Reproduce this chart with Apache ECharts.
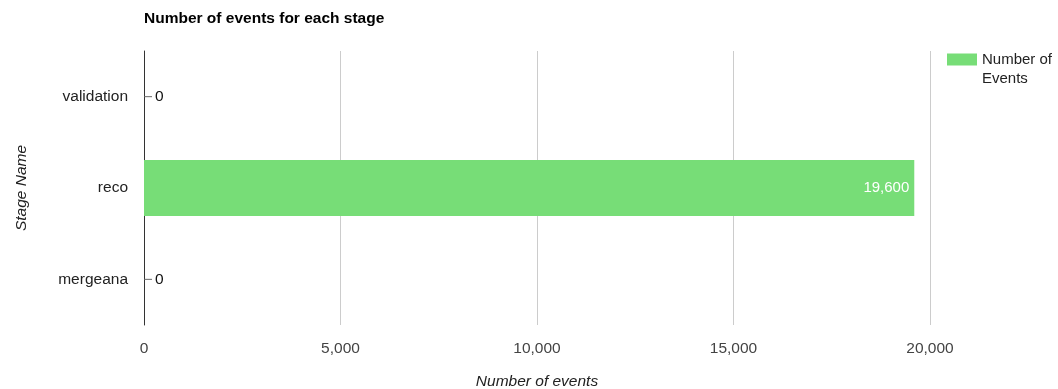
<!DOCTYPE html>
<html><head><meta charset="utf-8">
<script src="https://cdn.jsdelivr.net/npm/echarts@6/dist/echarts.min.js"></script>
<style>html,body{margin:0;padding:0;background:#fff}#c{width:1058px;height:389px}</style>
</head><body><div id="c"></div>
<script>
const categories = ['mergeana', 'reco', 'validation'];
const eventCounts = [0, 19600, 0];
const xTicks = [0, 5000, 10000, 15000, 20000];
const seriesName = 'Number of Events';

const FONT = '"Liberation Sans", Arial, sans-serif';
const FS = 15.5;
const chart = echarts.init(document.getElementById('c'));
const fmt = v => v.toLocaleString('en-US');
const data = eventCounts.map(v => v === 0 ? v : {
  value: v,
  label: { position: 'insideRight', color: '#fff', distance: 5 }
});
chart.setOption({
  animation: false,
  textStyle: { fontFamily: FONT },
  title: {
    text: 'Number of events for each stage', left: 139, top: 6,
    textStyle: { fontSize: FS, fontWeight: 'bold', color: '#000', fontFamily: FONT }
  },
  legend: {
    data: [seriesName], left: 947, top: 31, orient: 'vertical', padding: 0,
    icon: 'rect', itemWidth: 30, itemHeight: 12, itemGap: 8,
    formatter: () => '\nNumber of\nEvents',
    textStyle: { fontSize: 15, color: '#222', lineHeight: 19, fontFamily: FONT }
  },
  grid: { left: 144, right: 128, top: 51, bottom: 64, containLabel: false, outerBoundsMode: 'none' },
  xAxis: {
    type: 'value', min: xTicks[0], max: xTicks[xTicks.length - 1], interval: 5000,
    name: 'Number of events', nameLocation: 'middle', nameGap: 49,
    nameTextStyle: { fontStyle: 'italic', fontSize: FS, color: '#222', fontFamily: FONT },
    axisLine: { show: false }, axisTick: { show: false },
    axisLabel: { fontSize: FS, color: '#444', margin: 16, formatter: fmt, fontFamily: FONT },
    splitLine: { lineStyle: { color: '#ccc', width: 1 } }
  },
  yAxis: {
    type: 'category', data: categories,
    name: 'Stage Name', nameLocation: 'middle', nameGap: 114, nameRotate: 90,
    nameTextStyle: { fontStyle: 'italic', fontSize: FS, color: '#222', fontFamily: FONT },
    axisLine: { show: true, lineStyle: { color: '#333', width: 1 } },
    axisTick: { show: false },
    axisLabel: { fontSize: FS, color: '#222', margin: 16, fontFamily: FONT }
  },
  series: [{
    name: seriesName, type: 'bar', data: data,
    barCategoryGap: '38.5%',
    itemStyle: { color: '#77dd77' },
    label: {
      show: true, fontFamily: FONT, fontSize: 15,
      position: 'right', distance: 0,
      formatter: p => p.value === 0 ? '{stem|}{z|0}' : fmt(p.value),
      rich: {
        stem: { width: 8, height: 1, backgroundColor: '#666', verticalAlign: 'middle' },
        z: { fontSize: FS, color: '#111', padding: [0, 0, 0, 3], fontFamily: FONT }
      }
    }
  }]
});
</script></body></html>
